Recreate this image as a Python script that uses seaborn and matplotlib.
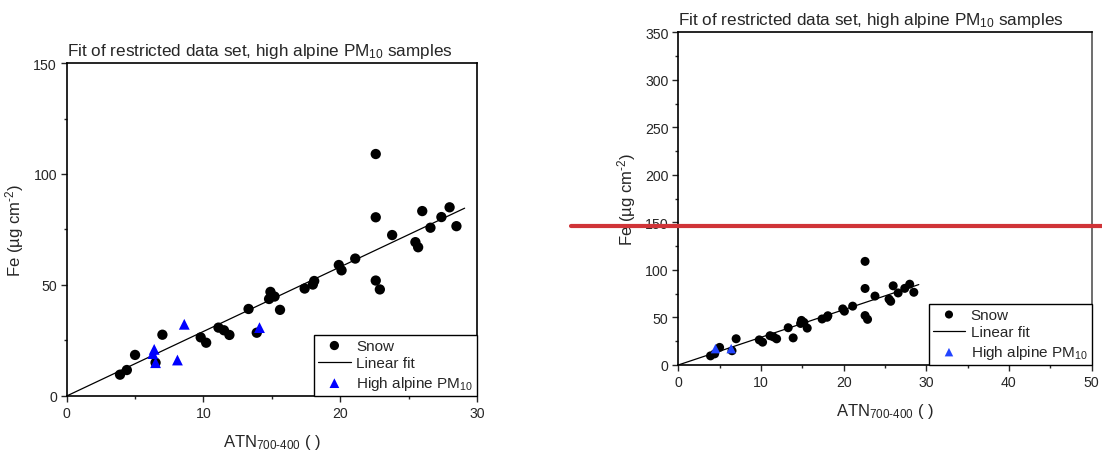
import matplotlib
matplotlib.use("Agg")
import matplotlib.pyplot as plt
from matplotlib.ticker import MultipleLocator
import seaborn as sns
import pandas as pd

# Snow samples (same in both panels)
snow_atn = [3.9, 4.4, 5.0, 7.0, 6.5, 9.8, 10.2, 11.1, 11.5, 11.9, 13.3, 13.9,
            14.8, 14.9, 15.2, 15.6, 17.4, 18.0, 18.1, 19.9, 20.1, 21.1,
            22.6, 22.6, 22.6, 22.9, 23.8, 25.5, 25.7, 26.0, 26.6, 27.4, 28.0, 28.5]
snow_fe = [9.6, 11.7, 18.5, 27.6, 15.0, 26.4, 24.0, 30.8, 29.6, 27.5, 39.2, 28.5,
           43.7, 46.9, 44.8, 38.8, 48.4, 50.2, 51.8, 59.0, 56.6, 61.9,
           109.0, 80.5, 52.0, 48.0, 72.5, 69.3, 67.0, 83.3, 75.8, 80.6, 85.0, 76.5]

# high alpine PM10 samples, left panel
pm_atn_left = [6.4, 6.3, 6.5, 8.1, 8.6, 14.1]
pm_fe_left = [21.0, 19.1, 15.0, 16.2, 32.3, 30.8]

# high alpine PM10 samples, right panel
pm_atn_right = [4.5, 6.4]
pm_fe_right = [17.2, 17.2]

# linear fit through origin
fit_x = [0, 29.1]
fit_y = [0, 84.6]

red_level = 146.5

sns.set_style("ticks")
plt.rcParams['font.family'] = ['Liberation Sans', 'DejaVu Sans']
plt.rcParams['mathtext.fontset'] = 'custom'
plt.rcParams['mathtext.rm'] = 'Liberation Sans'
plt.rcParams['mathtext.it'] = 'Liberation Sans:italic'
plt.rcParams['mathtext.bf'] = 'Liberation Sans:bold'
plt.rcParams['mathtext.default'] = 'regular'

title = "Fit of restricted data set, high alpine PM$_{10}$ samples"
xlab = "ATN$_{\\text{700-400}}$ ( )"
ylab = "Fe (µg cm$^{\\text{-2}}$)"

fig = plt.figure(figsize=(11.02, 4.52), dpi=100)
ax1 = fig.add_axes([0.0605, 0.1217, 0.3723, 0.7367])
ax2 = fig.add_axes([0.6155, 0.1903, 0.375, 0.7360])

snow = pd.DataFrame({"atn": snow_atn, "fe": snow_fe})
fit = pd.DataFrame({"atn": fit_x, "fe": fit_y})


def panel(ax, pm_x, pm_y, pm_color, ymax, ystep, xmax, msize):
    pm = pd.DataFrame({"atn": pm_x, "fe": pm_y})
    sns.scatterplot(data=snow, x="atn", y="fe", ax=ax, color="black", s=msize,
                    edgecolor="none", label="Snow", zorder=3)
    sns.lineplot(data=fit, x="atn", y="fe", ax=ax, color="black", lw=0.9,
                 label="Linear fit", zorder=2)
    sns.scatterplot(data=pm, x="atn", y="fe", ax=ax, color=pm_color, marker="^",
                    s=msize * 1.1, edgecolor="none", label="High alpine PM$_{10}$", zorder=4)
    ax.set_xlim(0, xmax)
    ax.set_ylim(0, ymax)
    ax.xaxis.set_major_locator(MultipleLocator(10))
    ax.xaxis.set_minor_locator(MultipleLocator(5))
    ax.yaxis.set_major_locator(MultipleLocator(ystep))
    ax.yaxis.set_minor_locator(MultipleLocator(ystep / 2))
    ax.tick_params(which="major", length=4.5, width=1, labelsize=10.2, direction="out", pad=2.5)
    ax.tick_params(which="minor", length=2.5, width=1, direction="out")
    for sp in ax.spines.values():
        sp.set_visible(True)
        sp.set_linewidth(1.2)
        sp.set_color("black")
    ax.set_xlabel(xlab, fontsize=12, labelpad=9)
    ax.set_ylabel(ylab, fontsize=12, labelpad=5)
    ax.set_title(title, fontsize=12.3, loc="left", pad=6, x=0.0)
    leg = ax.legend(loc="lower right", borderaxespad=0, fancybox=False,
                    edgecolor="black", framealpha=1, fontsize=11, handlelength=2.15,
                    handletextpad=0.35, borderpad=0.25, labelspacing=0.25,
                    markerscale=0.9)
    leg.get_frame().set_linewidth(1.0)


panel(ax1, pm_atn_left, pm_fe_left, "#0000ff", 150, 50, 30, 55)
panel(ax2, pm_atn_right, pm_fe_right, "#2244ff", 350, 50, 50, 42)
ax2.spines["right"].set_color("#555555")

ax2.plot([-13.0, 51.5], [red_level, red_level], color="#d03438", lw=3,
         clip_on=False, zorder=6)

fig.savefig("out.png", dpi=100)
